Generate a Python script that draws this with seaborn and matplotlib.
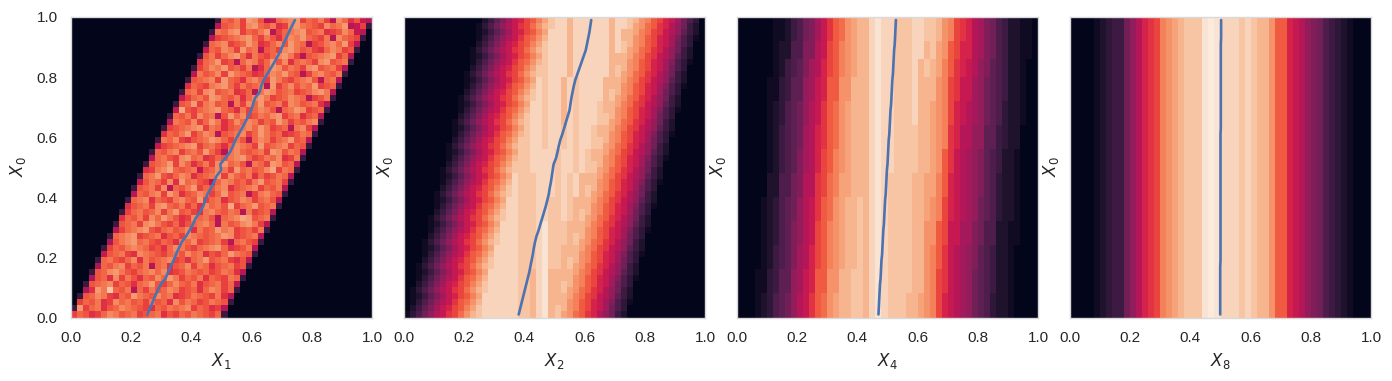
import numpy as np
import matplotlib
matplotlib.use("Agg")
import matplotlib.pyplot as plt
import seaborn as sns

LEVELS = "abcdefghijklmnopqrstuvwxyz"
N_CELLS = 50

x_labels = ["$X_1$", "$X_2$", "$X_4$", "$X_8$"]
y_label = "$X_0$"
tick_values = [0.0, 0.2, 0.4, 0.6, 0.8, 1.0]
color_tops = [1.06, 0.98, 0.98, 0.98]

# rows go bottom to top, each one starts at the column in *_start
x1_start = [0, 0, 1, 1, 2, 2, 3, 3, 4, 4, 5, 5, 6, 6, 7, 7, 8, 8, 9, 9, 10, 10, 11, 11, 12,
            12, 13, 13, 14, 14, 15, 15, 16, 16, 17, 17, 18, 18, 19, 19, 20, 20, 21, 21, 22, 22, 23, 23, 24, 24]
x1_rows = [
    "qsrpqsutrstqrstprqsrtsrqse", "evqstprsutsrqpsrtstuqsrpqm",
    "qsrtpqustrsqtrspurtsqrtsre", "ersutqpsrvtsrustpqrtsrqtpm",
    "lpvtysrtmsqtrsutqrspsutqse", "erstuqsrpstvrqsusrtprstqsm",
    "lrspuqtrpsrusvtqsrtpsrqtse", "ersuvtrqstusupqrtsrsqrtspm",
    "lsrtuqsrtmstprsuqtsprstqre", "estrqsuptrstuqrpstvrstqprm",
    "nrstqputsrqstrustprqsvtsre", "eqsrtutsqrpsutrqstuvspqrtm",
    "lrtuvstrqsrptsuqrstqmstrqe", "estuvqrstprsqutsrstvuqrstm",
    "mqstuvrqstrsuptrsvtuqrsqte", "erstquvtrqsprstusmtrsuvtqm",
    "psrtqusvtrpqustrmstuwvrste", "eqstrsuqtvrsqptusrtsmtqrsm",
    "prstquvsrtqspustrwqstvrste", "estupsrqtusrvqstprsutqstrm",
    "msrtuqvtprsutqsvrstmqtusre", "erstqumsrtvqsrtuprstuqsrtm",
    "nrtsqupvstrqmsutrsqtvrstqe", "estvrqsutprstvqusrtpsqrtsm",
    "pqtuwsrstnrsutqvstrsuwqtse", "erstvqusprtquvstrmtsqvursm",
    "mstrquvstpqsrtuvsqrtsupqte", "esrtuqstrvsqmtusrstqvurtsm",
    "nqrstuvqstrpsutsqvrstuqsre", "etsuqprstvusqtrmsutqstvrsm",
    "psrtvqsutmrstuqsvtrspqrtse", "eqrstuvqtsprstusvtqrsmtuqm",
    "mtsruqsvtprusutqsrvtqsrtue", "esrtqustmrvsuqrtsuvqstprsm",
    "nwrqstuvsrptqsutrmstvuqrse", "ersvqtursmtqusvrstqutrstpm",
    "nqstrvusrtpsuvtqrsutsmqrte", "estquvrstpqsmtvurstqrsuvtm",
    "psrqtuvsqtrstmvqsurtsvqrse", "erstuqvsrptusqvtrqsturmstm",
    "mtrsuqvtsrpqsutvsrmqtusrte", "eqsutvrsqtmpsvurtsquvrstqm",
    "pstvqrmsutqsvrupstsquvrste", "ertqsuvsptrqsuvtqmrstuvqsm",
    "nsrutqvstmrsquvtrsqpsutqre", "estuqrsvtpqsurvtsmqrtusvqm",
    "mqrstuvsqtrpsutvsrqtmusrqe", "etsuvqsrtvmqstuvrstpqrusnm",
    "mrstquvsrtpquvtsrqustvmnqe", "esrtqvurmnstuvqsrtqmusprnm",
]

x2_start = [0, 0, 0, 0, 1, 1, 1, 1, 2, 2, 2, 2, 3, 3, 3, 3, 4, 4, 4, 4, 5, 5, 5, 5, 6,
            6, 6, 6, 7, 7, 7, 7, 8, 8, 8, 8, 9, 9, 9, 9, 10, 10, 10, 10, 11, 11, 11, 11, 12, 12]
x2_rows = [
    "bdfhjlmoprtvwxxxxxxwwvxyvwutrqonljhec", "acegikmnpqsuwxxxxxxwwvxyvwvtsqpnmkhfd",
    "abdfhjlmoqrtvxxxxxxwwvxyvvvtsqpnmkifdb", "abcegikmnpqsuxxxxxxwwvxyvvvusrpomljgec",
    "bdfhjlmoprtvwxxxxxwwvxyvvwutrqonljhec", "acegikmnpqsuwxxxxxwwvxyvvwvtsqpnmkhfd",
    "abdfhjlmoqrtvxxxxxwwvxyvvvvtsqpnmkifdb", "abcegikmnpqsuxxxxxwwvxyvvvvusrpomljgec",
    "bdfhjlmoprtvwxxxxwwwxywwvwutrqonljhec", "acegikmnpqsuwxxxxwwwxywwvwvtsqpnmkhfd",
    "abdfhjlmoqrtvxxxxwwwxywwvvvtsqpnmkifdb", "abcegikmnpqsuxxxxwwwxywwvvvusrpomljgec",
    "bdfhjlmoprtvwxxxwwwxywwwvwutrqonljhec", "acegikmnpqsuwxxxwwwxywwwvwvtsqpnmkhfd",
    "abdfhjlmoqrtvxxxwwwxywwwvvvtsqpnmkifdb", "abcegikmnpqsuxxxwwwxywwwvvvusrpomljgec",
    "bdfhjlmoprtvwxxwwwxxwwxwvwutrqonljhec", "acegikmnpqsuwxxwwwxxwwxwvwvtsqpnmkhfd",
    "abdfhjlmoqrtvxxwwwxxwwxwvvvtsqpnmkifdb", "abcegikmnpqsuxxwwwxxwwxwvvvusrpomljgec",
    "bdfhjlmoprtvwxwwwxxxwxwxvwutrqonljhec", "acegikmnpqsuwxwwwxxxwxwxvwvtsqpnmkhfd",
    "abdfhjlmoqrtvxwwwxxxwxwxvvvtsqpnmkifdb", "abcegikmnpqsuxwwwxxxwxwxvvvusrpomljgec",
    "bdfhjlmoprtvwwwxxxxwxxwxwwutrqonljhec", "acegikmnpqsuwwwxxxxwxxwxwwvtsqpnmkhfd",
    "abdfhjlmoqrtvwwxxxxwxxwxwvvtsqpnmkifdb", "abcegikmnpqsuwwxxxxwxxwxwvvusrpomljgec",
    "bdfhjlmoprtvwwxxwxxwxwxxwwutrqonljhec", "acegikmnpqsuwwxxwxxwxwxxwwvtsqpnmkhfd",
    "abdfhjlmoqrtvwxxwxxwxwxxwvvtsqpnmkifdb", "abcegikmnpqsuwxxwxxwxwxxwvvusrpomljgec",
    "bdfhjlmoprtvwxxwxxvxwxxxwwutrqonljhec", "acegikmnpqsuwxxwxxvxwxxxwwvtsqpnmkhfd",
    "abdfhjlmoqrtvxxwxxvxwxxxwvvtsqpnmkifdb", "abcegikmnpqsuxxwxxvxwxxxwvvusrpomljgec",
    "bdfhjlmoprtvwxwxxvxwxxxxvwutrqonljhec", "acegikmnpqsuwxwxxvxwxxxxvwvtsqpnmkhfd",
    "abdfhjlmoqrtvxwxxvxwxxxxvvvtsqpnmkifdb", "abcegikmnpqsuxwxxvxwxxxxvvvusrpomljgec",
    "bdfhjlmoprtvwwxxxvxxxxxxvwutrqonljhec", "acegikmnpqsuwwxxxvxxxxxxvwvtsqpnmkhfd",
    "abdfhjlmoqrtvwxxxvxxxxxxvvvtsqpnmkifdb", "abcegikmnpqsuwxxxvxxxxxxvvvusrpomljgec",
    "bdfhjlmoprtvwxxxvxxxxxxvxwutrqonljhec", "acegikmnpqsuwxxxvxxxxxxvxwvtsqpnmkhfd",
    "abdfhjlmoqrtvxxxvxxxxxxvxvvtsqpnmkifdb", "abcegikmnpqsuxxxvxxxxxxvxvvusrpomljgec",
    "bdfhjlmoprtvwxxvxxxxxxvxxwutrqonljhec", "acegikmnpqsuwxxvxxxxxxvxxwvtsqpnmkhfd",
]

# X4 panel: the stripes only move a little, so a few distinct rows with a repeat count
x4_rows = [
    "aaabcdfghjlmoqrtuvvwwvxyxwwwvvutspnmlkjhgfdccbaaaa",
    "aaabbdeggjkmnqqttvvwwvxyxwwwwvvtspomlkjhgfeccbaaaa",
    "aaaabcefgiklnpqstuvvwvxyxwwwwvvtsqomlkjigfeccbaaaa",
    "aaaabcdfgijlmpqstuvvwvxyxwwwwvvttqpmmkkihffccbbaaa",
    "aaaabcdfghjlmoqrtuvvwvxyxwwwwvvutspnmlkjhgfdccbaaa",
    "aaaaaccffhilloprsuuvvvxyxwwwwvvuusqnmlkjigfdccbaaa",
    "aaaaabcefgiklnpqstuvvvxyxxwwwwvvutqomlkjigfeccbaaa",
    "aaaaabcefghklnoqrtuvvvxyxxwwwwvvutsonlljjggedccaaa",
    "aaaaabcdfghjlmoqrtuvvvxyxxwwwxvvutspnmlkjhgfdccbaa",
    "aaaaabbdeggjkmnqqttvvvxyxxwwwxvvvtspommkjhgfeccbaa",
    "aaaaaabcefgiklnpqstuvvxyxxwwwxvwvusqonmljigfeccbaa",
    "aaaaaabccffiilmpqstuvvxyxxwwwxxvwutqpnnlkihfeccbba",
    "aaaaaabbcefhikmoqrtuvvxyxxwwwxxwwvtsponlkihfeccbba",
]
x4_repeat = [4, 4, 4, 4, 4, 4, 4, 4, 4, 4, 3, 3, 4]

x8_row = "aaaabcdeehjlnopstuvwwwyzyxxxwxwvvtqqnmljihfedcbaaa"

# fitted curves, x position for each row from bottom to top
x1_curve = [0.254, 0.262, 0.271, 0.279, 0.288, 0.298, 0.314, 0.322, 0.331, 0.341,
            0.349, 0.358, 0.367, 0.382, 0.394, 0.405, 0.414, 0.428, 0.439, 0.446,
            0.453, 0.465, 0.475, 0.483, 0.4985, 0.496, 0.512, 0.528, 0.538, 0.546,
            0.557, 0.568, 0.579, 0.589, 0.599, 0.605, 0.611, 0.627, 0.632, 0.640,
            0.652, 0.664, 0.676, 0.687, 0.697, 0.706, 0.715, 0.724, 0.734, 0.744]
x2_curve = [0.381, 0.386, 0.391, 0.396, 0.401, 0.406, 0.411, 0.416, 0.420, 0.424,
            0.428, 0.431, 0.435, 0.440, 0.447, 0.453, 0.459, 0.465, 0.471, 0.476,
            0.481, 0.484, 0.488, 0.491, 0.494, 0.497, 0.505, 0.510, 0.514, 0.519,
            0.526, 0.532, 0.538, 0.544, 0.550, 0.553, 0.556, 0.560, 0.564, 0.569,
            0.576, 0.583, 0.590, 0.597, 0.604, 0.608, 0.612, 0.616, 0.619, 0.622]
x4_curve = [0.470, 0.471, 0.472, 0.473, 0.474, 0.475, 0.477, 0.478, 0.479, 0.480,
            0.482, 0.483, 0.484, 0.485, 0.486, 0.488, 0.489, 0.490, 0.491, 0.492,
            0.494, 0.495, 0.496, 0.497, 0.498, 0.500, 0.501, 0.502, 0.503, 0.504,
            0.506, 0.507, 0.508, 0.509, 0.510, 0.512, 0.513, 0.514, 0.515, 0.516,
            0.518, 0.519, 0.520, 0.521, 0.522, 0.524, 0.525, 0.526, 0.527, 0.528]
x8_curve = [0.499, 0.499, 0.499, 0.499, 0.499, 0.499, 0.499, 0.499, 0.499, 0.500,
            0.500, 0.500, 0.500, 0.500, 0.500, 0.500, 0.500, 0.500, 0.500, 0.500,
            0.500, 0.500, 0.500, 0.500, 0.500, 0.500, 0.500, 0.500, 0.500, 0.500,
            0.500, 0.501, 0.501, 0.501, 0.501, 0.501, 0.501, 0.501, 0.501, 0.501,
            0.501, 0.501, 0.501, 0.501, 0.501, 0.501, 0.502, 0.502, 0.502, 0.502]
curve_y = [0.01, 0.03, 0.05, 0.07, 0.09, 0.11, 0.13, 0.15, 0.17, 0.19,
           0.21, 0.23, 0.25, 0.27, 0.29, 0.31, 0.33, 0.35, 0.37, 0.39,
           0.41, 0.43, 0.45, 0.47, 0.49, 0.51, 0.53, 0.55, 0.57, 0.59,
           0.61, 0.63, 0.65, 0.67, 0.69, 0.71, 0.73, 0.75, 0.77, 0.79,
           0.81, 0.83, 0.85, 0.87, 0.89, 0.91, 0.93, 0.95, 0.97, 0.99]


def row_values(cells, start=0):
    values = np.zeros(N_CELLS)
    for i, letter in enumerate(cells):
        if start + i < N_CELLS:
            values[start + i] = LEVELS.index(letter) / 25
    return values


def build_matrix(rows, starts):
    return np.array([row_values(r, s) for r, s in zip(rows, starts)])


def draw_panel(ax, matrix, curve, x_label, color_top, show_y_ticks):
    sns.heatmap(matrix, vmin=0, vmax=color_top, cbar=False, xticklabels=False, yticklabels=False, ax=ax)
    ax.invert_yaxis()
    sns.lineplot(x=np.array(curve) * N_CELLS, y=np.array(curve_y) * N_CELLS, sort=False,
                 estimator=None, color=sns.color_palette("deep")[0], linewidth=1.9, ax=ax)
    ax.set_xticks(np.array(tick_values) * N_CELLS)
    ax.set_xticklabels([f"{v:.1f}" for v in tick_values], rotation=0)
    if show_y_ticks:
        ax.set_yticks(np.array(tick_values) * N_CELLS)
        ax.set_yticklabels([f"{v:.1f}" for v in tick_values], rotation=0)
    else:
        ax.set_yticks([])
    for spine in ax.spines.values():
        spine.set_visible(True)
        spine.set_color(".85")
        spine.set_linewidth(1.0)


def main():
    sns.set_theme(style="white")
    plt.rcParams["font.sans-serif"] = ["Liberation Sans", "DejaVu Sans"]

    matrices = [
        build_matrix(x1_rows, x1_start),
        build_matrix(x2_rows, x2_start),
        np.repeat([row_values(r) for r in x4_rows], x4_repeat, axis=0),
        np.repeat([row_values(x8_row)], N_CELLS, axis=0),
    ]
    curves = [x1_curve, x2_curve, x4_curve, x8_curve]

    fig, axes = plt.subplots(1, 4, figsize=(13.92, 3.81), dpi=100)
    fig.subplots_adjust(left=71 / 1392, right=1371 / 1392, bottom=1 - 317.5 / 381,
                        top=1 - 17 / 381, wspace=32 / 301)
    for i, ax in enumerate(axes):
        draw_panel(ax, matrices[i], curves[i], x_labels[i], color_tops[i], i == 0)

    # axis labels placed on the figure, the y one sits left of each panel
    y_label_pos = [18, 385, 718, 1051]
    for i, ax in enumerate(axes):
        box = ax.get_position()
        fig.text((box.x0 + box.x1) / 2, 1 - 361 / 381, x_labels[i], ha="center", va="center",
                 fontsize=12, family="DejaVu Sans", color=".15")
        fig.text(y_label_pos[i] / 1392, 1 - 167 / 381, y_label, ha="center", va="center",
                 rotation=90, fontsize=12, family="DejaVu Sans", color=".15")

    fig.savefig("out.png", dpi=100)


if __name__ == "__main__":
    main()
